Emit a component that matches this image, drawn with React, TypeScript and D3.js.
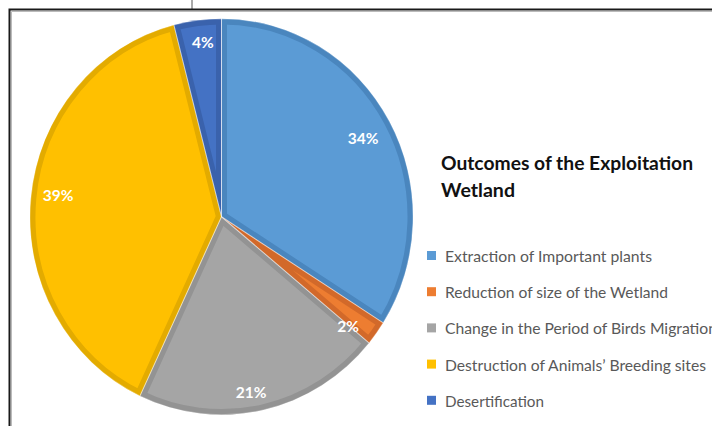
import React from "react";
import * as d3 from "d3";

const categories = [
  "Extraction of Important plants",
  "Reduction of size of the Wetland",
  "Change in the Period of Birds Migration",
  "Destruction of Animals\u2019 Breeding sites",
  "Desertification",
];
const values = [34, 2, 21, 39, 4];
const labels = ["34%", "2%", "21%", "39%", "4%"];
const titleLines = ["Outcomes of the Exploitation", "Wetland"];

const fills = ["#5B9BD5", "#ED7D31", "#A5A5A5", "#FFC000", "#4472C4"];
const edges = ["#4A86BE", "#D2692A", "#939393", "#E3AB00", "#3A62AC"];
const labelFactor = [0.84, 0.86, 0.9, 0.86, 0.89];
const labelShiftDeg = [0.5, 3.8, 2.7, 1.8, 0.9];
const legendWidths = [207, 223, 272, 261, 99];

const W = 712;
const H = 426;
const cx = 221.5;
const cy = 216.75;
const rx = 191.5;
const ry = 198;

export default function App() {
  const pie = d3.pie<number>().sort(null).value((d) => d);
  const arcs = pie(values);
  const arcGen = d3.arc<d3.PieArcDatum<number>>().innerRadius(0).outerRadius(rx);
  const sy = ry / rx;

  return (
    <svg
      width={W}
      height={H}
      style={{ position: "absolute", left: 0, top: 0, background: "#fff" }}
    >
      <rect x={0} y={0} width={W} height={H} fill="#fff" />
      <line x1={192} y1={0} x2={192} y2={9} stroke="#555" strokeWidth={1} />
      <path d={`M9.5,${H + 5} V9.5 H${W + 5}`} fill="none" stroke="#1a1a1a" strokeWidth={2} />
      <path d={`M11.5,${H + 5} V11.5 H${W + 5}`} fill="none" stroke="#bbb" strokeWidth={1} />
      <defs>
        {arcs.map((a, i) => (
          <clipPath id={`clip${i}`} key={i}>
            <path d={arcGen(a) || ""} />
          </clipPath>
        ))}
      </defs>
      <g transform={`translate(${cx},${cy}) scale(1,${sy})`}>
        {arcs.map((a, i) => (
          <path
            key={i}
            d={arcGen(a) || ""}
            fill={fills[i]}
            stroke={edges[i]}
            strokeWidth={11}
            clipPath={`url(#clip${i})`}
          />
        ))}
        {arcs.map((a, i) => (
          <path
            key={"o" + i}
            d={arcGen(a) || ""}
            fill="none"
            stroke="rgba(255,255,255,0.35)"
            strokeWidth={1}
          />
        ))}
      </g>
      {arcs.map((a, i) => {
        const mid = (a.startAngle + a.endAngle) / 2 + (labelShiftDeg[i] * Math.PI) / 180;
        const f = labelFactor[i];
        const x = cx + Math.sin(mid) * rx * f;
        const y = cy - Math.cos(mid) * ry * f;
        return (
          <text
            key={"l" + i}
            x={x}
            y={y}
            textAnchor="middle"
            dominantBaseline="central"
            fill="#fff"
            fontFamily="Lato, 'Open Sans', sans-serif"
            fontWeight="bold"
            fontSize={15.5}
          >
            {labels[i]}
          </text>
        );
      })}
      {titleLines.map((t, i) => (
        <text
          key={"t" + i}
          x={441}
          y={170 + i * 27}
          fill="#111"
          fontFamily="Lato, 'Open Sans', sans-serif"
          fontWeight="bold"
          fontSize={18}
          textLength={i === 0 ? 252 : 74}
          lengthAdjust="spacingAndGlyphs"
        >
          {t}
        </text>
      ))}
      {categories.map((c, i) => {
        const by = 262 + i * 36.2;
        return (
          <g key={"g" + i}>
            <rect x={427} y={by - 11} width={9} height={9} fill={fills[i]} />
            <text
              x={445}
              y={by}
              fill="#595959"
              fontFamily="Lato, 'Open Sans', sans-serif"
              fontSize={15}
              textLength={legendWidths[i]}
              lengthAdjust="spacingAndGlyphs"
            >
              {c}
            </text>
          </g>
        );
      })}
    </svg>
  );
}
